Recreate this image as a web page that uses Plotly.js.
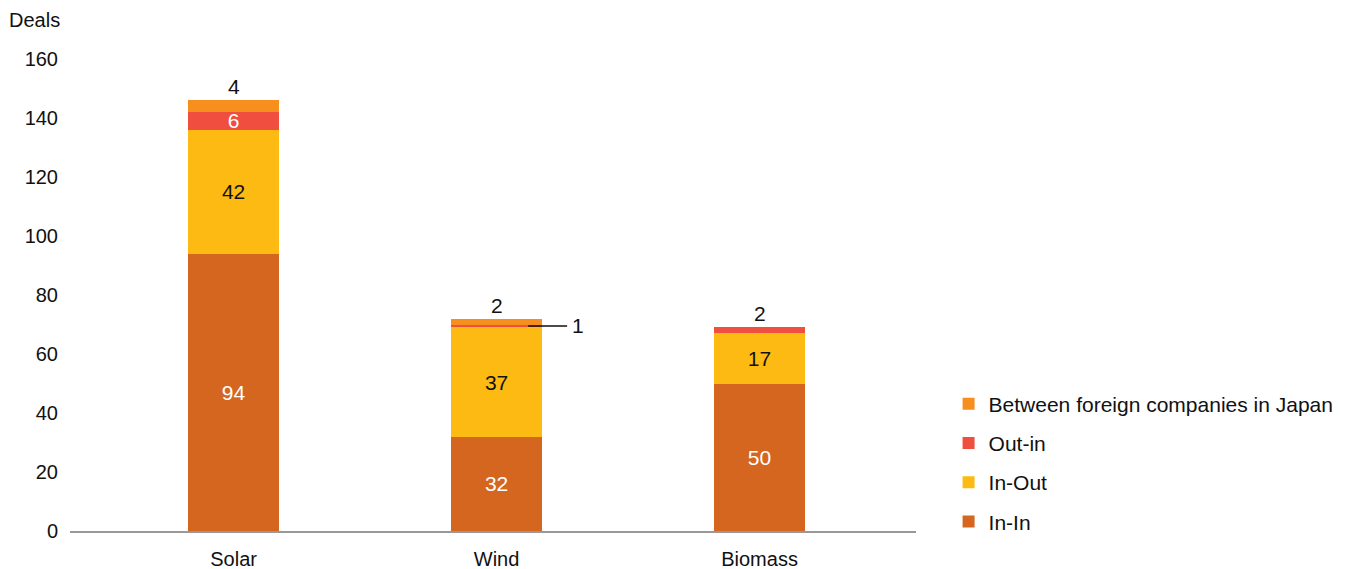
<!DOCTYPE html>
<html>
<head>
<meta charset="utf-8">
<script src="https://cdn.plot.ly/plotly-3.0.1.min.js"></script>
<style>html,body{margin:0;padding:0;background:#fff;}#chart{width:1352px;height:569px;}</style>
</head>
<body>
<div id="chart"></div>
<script>
const categories = ["Solar", "Wind", "Biomass"];
const inIn = [94, 32, 50];
const inOut = [42, 37, 17];
const outIn = [6, 1, 2];
const betweenForeign = [4, 2, 0];
const yTicks = [0, 20, 40, 60, 80, 100, 120, 140, 160];

const FONT = "Liberation Sans, Arial, Helvetica, sans-serif";
const colors = {inIn: "#D5661F", inOut: "#FDBA12", outIn: "#F04E3F", between: "#F78F1E"};

function insideText(arr){ return arr.map(v => v >= 5 ? String(v) : ""); }

function mk(name, vals, color, textColor, rank){
  return {
    type: "bar", name: name, x: categories, y: vals, legendgroup: name, legendrank: rank,
    marker: {color: color, line: {width: 0}},
    text: insideText(vals), textposition: "inside", insidetextanchor: "middle",
    textangle: 0, constraintext: "none",
    textfont: {family: FONT, size: 21, color: textColor},
    hoverinfo: "none", width: 0.346
  };
}

const data = [
  mk("In-In", inIn, colors.inIn, "#ffffff", 4),
  mk("In-Out", inOut, colors.inOut, "#111111", 3),
  mk("Out-in", outIn, colors.outIn, "#ffffff", 2),
  mk("Between foreign companies in Japan", betweenForeign, colors.between, "#111111", 1)
];

const annotations = [
  {xref: "paper", yref: "paper", x: -0.075, y: 1.083, xanchor: "left", yanchor: "middle",
   text: "Deals", showarrow: false, font: {family: FONT, size: 20, color: "#111"}}
];
categories.forEach((c, i) => {
  const segs = [inIn[i], inOut[i], outIn[i], betweenForeign[i]];
  const total = segs.reduce((a, b) => a + b, 0);
  let topIdx = 3; while (topIdx > 0 && segs[topIdx] === 0) topIdx--;
  if (segs[topIdx] < 5) {
    annotations.push({x: c, y: total, yanchor: "bottom", yshift: 0, text: String(segs[topIdx]),
      showarrow: false, font: {family: FONT, size: 21, color: "#111"}});
  }
  for (let k = 0; k < topIdx; k++) {
    if (segs[k] > 0 && segs[k] < 5) {
      const mid = segs.slice(0, k).reduce((a, b) => a + b, 0) + segs[k] / 2;
      annotations.push({x: i + 0.12, y: mid, ax: 42, ay: 0, xanchor: "left", text: String(segs[k]),
        showarrow: true, arrowhead: 0, arrowwidth: 1.3, arrowcolor: "#111", standoff: 0, startstandoff: 3,
        font: {family: FONT, size: 21, color: "#111"}});
    }
  }
});

const layout = {
  width: 1352, height: 569,
  margin: {l: 70, r: 436, t: 59, b: 38},
  barmode: "stack",
  paper_bgcolor: "#fff", plot_bgcolor: "#fff",
  font: {family: FONT, size: 20, color: "#111"},
  xaxis: {type: "category", range: [-0.622, 2.595], showgrid: false, showline: true,
          linecolor: "#999", linewidth: 1.5, ticks: "", tickfont: {size: 20}, ticklabelstandoff: 9,
          fixedrange: true},
  yaxis: {range: [0, 160], tickvals: yTicks, showgrid: false, zeroline: false, showline: false,
          ticks: "", tickfont: {size: 20}, ticklabelstandoff: 11, fixedrange: true},
  showlegend: true,
  legend: {x: 1.0385, y: 0.144, xanchor: "left", yanchor: "middle", traceorder: "grouped",
           font: {family: FONT, size: 21, color: "#111"}, tracegroupgap: 9, itemwidth: 30},
  annotations: annotations
};

Plotly.newPlot("chart", data, layout, {displayModeBar: false, staticPlot: true});
</script>
</body>
</html>
